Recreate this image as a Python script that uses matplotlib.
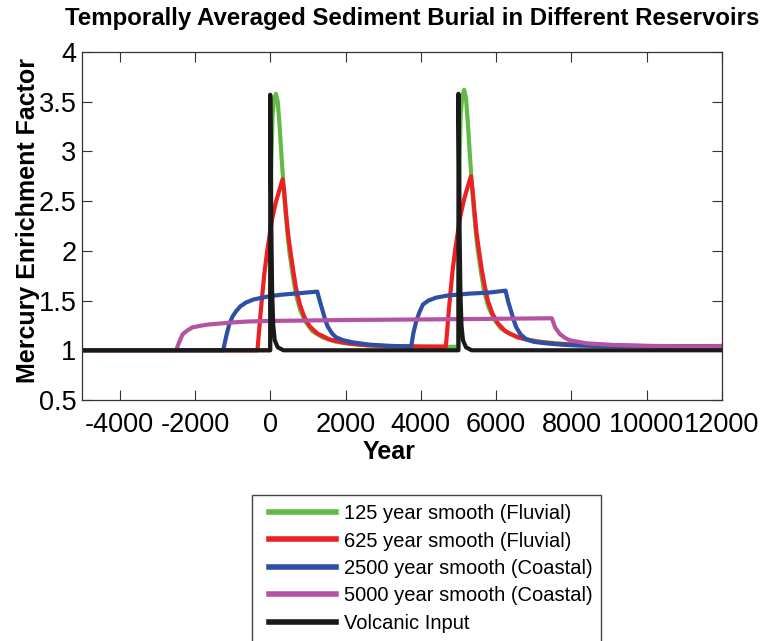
import matplotlib
matplotlib.use('Agg')
import matplotlib.pyplot as plt
from matplotlib import font_manager
from matplotlib.legend_handler import HandlerLine2D

# Volcanic input (black)
volc_year = [-5000, -1, 0, 15, 30, 50, 80, 120, 200, 350,
             4999, 5000, 5015, 5030, 5050, 5080, 5120, 5200, 5350, 12000]
volc_val = [1.0, 1.0, 3.57, 2.9, 2.2, 1.6, 1.25, 1.1, 1.03, 1.0,
            1.0, 3.58, 2.9, 2.2, 1.6, 1.25, 1.1, 1.03, 1.0, 1.0]

# 125 year smooth (green)
g_year = [-5000, -2, 0, 10, 30, 60, 100, 150, 200, 250, 300, 372, 450, 505, 600,
          683, 800, 950, 1125, 1390, 1700, 2100, 2600, 3100, 4000, 4990,
          4998, 5000, 5010, 5030, 5060, 5100, 5150, 5200, 5250, 5300, 5372, 5450,
          5505, 5600, 5683, 5800, 5950, 6125, 6390, 6700, 7100, 7600, 8200, 9000,
          10000, 11000, 12000]
g_val = [1.0, 1.0, 1.3, 2.2, 2.9, 3.35, 3.52, 3.58, 3.5, 3.25, 2.95, 2.55, 2.2, 2.0, 1.75,
         1.56, 1.4, 1.28, 1.19, 1.13, 1.09, 1.065, 1.05, 1.04, 1.035, 1.035,
         1.035, 1.33, 2.23, 2.93, 3.38, 3.55, 3.62, 3.54, 3.28, 2.98, 2.58, 2.23,
         2.03, 1.78, 1.59, 1.43, 1.31, 1.22, 1.16, 1.12, 1.09, 1.07, 1.055, 1.047,
         1.042, 1.04, 1.04]

# 625 year smooth (red)
r_year = [-5000, -340, -250, -160, -80, 0, 50, 150, 250, 327, 370, 417, 480, 550, 620,
          683, 780, 900, 1050, 1250, 1570, 1900, 2190, 2600, 3077, 4000, 4665,
          4750, 4840, 4920, 5000, 5050, 5150, 5250, 5330, 5370, 5420, 5480, 5550,
          5620, 5690, 5780, 5900, 6050, 6250, 6570, 6900, 7200, 7600, 8200, 9000,
          10000, 11000, 12000]
r_val = [1.0, 1.0, 1.4, 1.76, 2.0, 2.2, 2.32, 2.49, 2.62, 2.72, 2.6, 2.39, 2.15, 1.96, 1.78,
         1.63, 1.47, 1.34, 1.24, 1.17, 1.11, 1.08, 1.064, 1.05, 1.044, 1.038, 1.037,
         1.43, 1.79, 2.03, 2.23, 2.35, 2.52, 2.65, 2.75, 2.63, 2.42, 2.18, 1.99,
         1.81, 1.66, 1.5, 1.37, 1.27, 1.19, 1.13, 1.1, 1.08, 1.065, 1.055, 1.047,
         1.042, 1.04, 1.04]

# 2500 year smooth (blue)
b_year = [-5000, -1250, -1170, -1090, -1000, -912, -800, -646, -450, -205, 0, 327,
          800, 1250, 1320, 1390, 1450, 1525, 1640, 1750, 1950, 2190, 2630, 3100,
          3745, 3800, 3880, 3960, 4055, 4200, 4410, 4700, 5000, 5290, 5800, 6250,
          6320, 6400, 6470, 6536, 6650, 6800, 7000, 7333, 7800, 8220, 9000, 10000,
          12000]
b_val = [1.0, 1.0, 1.14, 1.26, 1.34, 1.39, 1.44, 1.48, 1.51, 1.53, 1.545, 1.56,
         1.575, 1.59, 1.49, 1.4, 1.32, 1.24, 1.17, 1.13, 1.1, 1.08, 1.057, 1.045,
         1.037, 1.17, 1.295, 1.38, 1.46, 1.5, 1.53, 1.55, 1.56, 1.57, 1.58, 1.6,
         1.49, 1.39, 1.3, 1.23, 1.16, 1.11, 1.085, 1.07, 1.055, 1.047, 1.042, 1.04,
         1.038]

# 5000 year smooth (purple)
p_year = [-5000, -2500, -2420, -2330, -2200, -2070, -1800, -1620, -1000, -560, 0,
          2100, 4000, 5500, 7480, 7567, 7700, 7850, 7966, 8400, 9100, 10000, 10880,
          11800, 12000]
p_val = [1.0, 1.0, 1.08, 1.16, 1.2, 1.23, 1.25, 1.26, 1.28, 1.29, 1.295,
         1.305, 1.31, 1.315, 1.322, 1.23, 1.16, 1.12, 1.1, 1.07, 1.054, 1.045, 1.04,
         1.04, 1.045]

labels = ['125 year smooth (Fluvial)', '625 year smooth (Fluvial)',
          '2500 year smooth (Coastal)', '5000 year smooth (Coastal)', 'Volcanic Input']
colors = ['#62bb46', '#ed2024', '#2e4fa3', '#b553a3', '#1a1a1a']

x_ticks = [-4000, -2000, 0, 2000, 4000, 6000, 8000, 10000, 12000]
x_ticklabels = ['-4000', '-2000', '0', '2000', '4000', '6000', '8000', '10000', '12000']
y_ticks = [0.5, 1, 1.5, 2, 2.5, 3, 3.5, 4]
y_ticklabels = ['0.5', '1', '1.5', '2', '2.5', '3', '3.5', '4']

# pick a narrow face for the bold labels if one exists
names = {f.name for f in font_manager.fontManager.ttflist}
narrow = 'Liberation Sans Narrow' if 'Liberation Sans Narrow' in names else 'Liberation Sans'
plt.rcParams['font.family'] = ['Liberation Sans', 'DejaVu Sans']

W, H = 771, 641
fig = plt.figure(figsize=(W / 100, H / 100), dpi=100)
ax = fig.add_axes([82 / W, 1 - 400 / H, 640 / W, 348 / H])

series = [(g_year, g_val), (r_year, r_val), (b_year, b_val), (p_year, p_val), (volc_year, volc_val)]
handles = []
for (xs, ys), lab, c in zip(series, labels, colors):
    h, = ax.plot(xs, ys, color=c, linewidth=3, label=lab, solid_joinstyle='round')
    handles.append(h)

ax.set_xlim(-5000, 12000)
ax.set_ylim(0.5, 4)
ax.set_xticks(x_ticks)
ax.set_xticklabels(x_ticklabels)
ax.set_yticks(y_ticks)
ax.set_yticklabels(y_ticklabels)
ax.tick_params(direction='in', length=7, width=0.8, top=True, right=True,
               labelsize=19.5, color='#333333')
ax.tick_params(axis='x', pad=9)
ax.tick_params(axis='y', pad=4)
for sp in ax.spines.values():
    sp.set_linewidth(0.9)
    sp.set_color('#333333')

fig.text(412 / W, 1 - 19 / H, 'Temporally Averaged Sediment Burial in Different Reservoirs',
         fontsize=17.3, fontweight='bold', family=narrow, ha='center', va='center')
ax.set_xlabel('Year', fontsize=18, fontweight='bold', family=narrow)
ax.xaxis.set_label_coords(0.48, -0.115)
ax.set_ylabel('Mercury Enrichment Factor', fontsize=18, fontweight='bold', family=narrow)
ax.yaxis.set_label_coords(-0.066, 0.517)

# legend sits under the axes, its box runs off the bottom edge like the original
leg = fig.legend(handles=handles, loc='upper left', bbox_to_anchor=(252 / W, 1 - 495 / H),
                 fontsize=14.5, frameon=True, fancybox=False, framealpha=1,
                 edgecolor='#444444', handlelength=3.7, handletextpad=0.4,
                 labelspacing=0.42, borderpad=0.45, borderaxespad=0,
                 handler_map={h: HandlerLine2D(xpad=0.4) for h in handles})
leg.get_frame().set_linewidth(1.0)
for line in leg.get_lines():
    line.set_linewidth(4)

fig.savefig('out.png', dpi=100)
